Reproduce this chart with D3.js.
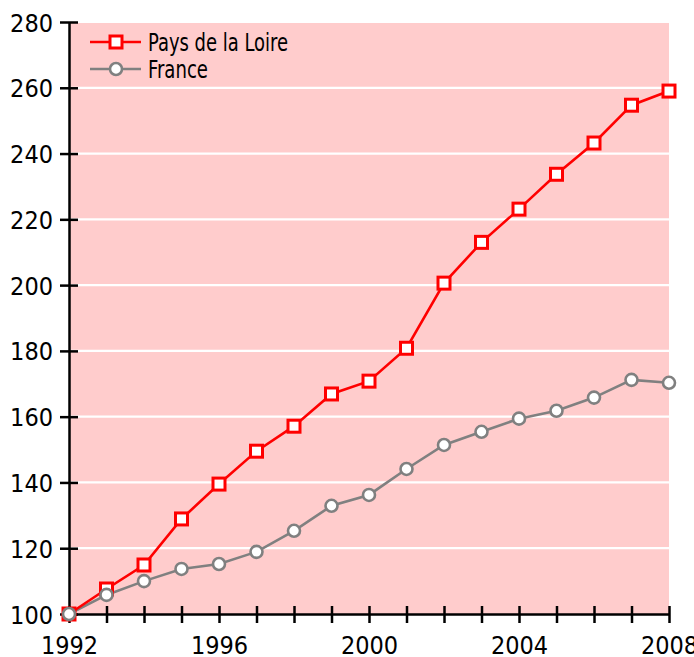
<!DOCTYPE html>
<html>
<head>
<meta charset="utf-8">
<script src="https://cdn.jsdelivr.net/npm/d3@7"></script>
<style>
  body { margin: 0; background: #fff; }
  svg text { font-family: "DejaVu Sans Condensed", "Liberation Sans Narrow", "Roboto", sans-serif; fill: #000; }
</style>
</head>
<body>
<div id="chart"></div>
<script>
var years = d3.range(1992, 2009);
var loireValues = [100, 107.6, 114.9, 128.9, 139.5, 149.5, 157.1, 166.9, 170.8, 180.8, 200.6, 213, 223.1, 233.7, 243.2, 254.7, 259];
var franceValues = [100, 105.8, 110, 113.7, 115.2, 118.9, 125.3, 132.9, 136.2, 144.1, 151.4, 155.4, 159.4, 161.8, 165.8, 171.2, 170.3];
var yTicks = [100, 120, 140, 160, 180, 200, 220, 240, 260, 280];
var xLabels = [1992, 1996, 2000, 2004, 2008];
var seriesNames = ["Pays de la Loire", "France"];

var margin = { top: 22, right: 25, bottom: 43, left: 69 };
var width = 694 - margin.left - margin.right,
    height = 657 - margin.top - margin.bottom;

var svg = d3.select("#chart").append("svg")
    .attr("width", 694)
    .attr("height", 657)
    .append("g")
    .attr("transform", "translate(" + margin.left + "," + margin.top + ")");

var x = d3.scaleLinear().domain([1992, 2008]).range([0, width]);
var y = d3.scaleLinear().domain([100, 280]).range([height, 0]);

svg.append("rect")
    .attr("width", width)
    .attr("height", height)
    .attr("fill", "#ffcccc");

// white grid lines
svg.selectAll(".grid")
    .data(yTicks.filter(function(d) { return d > 100; }))
    .enter().append("line")
    .attr("class", "grid")
    .attr("x1", 0).attr("x2", width)
    .attr("y1", function(d) { return y(d); })
    .attr("y2", function(d) { return y(d); })
    .attr("stroke", "#fff")
    .attr("stroke-width", 2.2);

var yAxis = d3.axisLeft(y).tickValues(yTicks).tickSize(0).tickPadding(16);
var xAxis = d3.axisBottom(x).tickValues(years).tickSize(0)
    .tickFormat(function(d) { return xLabels.indexOf(d) >= 0 ? d : ""; });

var gy = svg.append("g").call(yAxis);
var gx = svg.append("g").attr("transform", "translate(0," + height + ")").call(xAxis);

[gx, gy].forEach(function(g) {
    g.select(".domain").attr("stroke", "#000").attr("stroke-width", 2.5);
    g.selectAll("text").style("font-size", "25px");
});
gy.selectAll(".tick text").attr("dy", "0.36em");
gx.selectAll(".tick text").attr("y", 40).attr("dy", 0);

// ticks crossing the axes
gy.selectAll(".tick").append("line")
    .attr("x1", -9).attr("x2", 9)
    .attr("stroke", "#000").attr("stroke-width", 2.5);
gx.selectAll(".tick").append("line")
    .attr("y1", -8).attr("y2", 9)
    .attr("stroke", "#000").attr("stroke-width", 2.5);

var line = d3.line()
    .x(function(d, i) { return x(years[i]); })
    .y(function(d) { return y(d); });

svg.append("path")
    .datum(franceValues)
    .attr("d", line)
    .attr("fill", "none")
    .attr("stroke", "#808080")
    .attr("stroke-width", 2.6);

svg.append("path")
    .datum(loireValues)
    .attr("d", line)
    .attr("fill", "none")
    .attr("stroke", "#ff0000")
    .attr("stroke-width", 2.6);

svg.selectAll(".sq")
    .data(loireValues)
    .enter().append("rect")
    .attr("class", "sq")
    .attr("x", function(d, i) { return x(years[i]) - 6; })
    .attr("y", function(d) { return y(d) - 6; })
    .attr("width", 12).attr("height", 12)
    .attr("fill", "#fff")
    .attr("stroke", "#ff0000")
    .attr("stroke-width", 3);

svg.selectAll(".pt")
    .data(franceValues)
    .enter().append("circle")
    .attr("class", "pt")
    .attr("cx", function(d, i) { return x(years[i]); })
    .attr("cy", function(d) { return y(d); })
    .attr("r", 6)
    .attr("fill", "#fff")
    .attr("stroke", "#808080")
    .attr("stroke-width", 2.6);

// legend
var legend = svg.append("g").attr("transform", "translate(21,20)");
var colors = ["#ff0000", "#808080"];
var textWidths = [140, 60];
seriesNames.forEach(function(name, i) {
    var g = legend.append("g").attr("transform", "translate(0," + (i * 27) + ")");
    g.append("line").attr("x1", 0).attr("x2", 51)
        .attr("stroke", colors[i]).attr("stroke-width", 2.6);
    if (i === 0) {
        g.append("rect").attr("x", 20).attr("y", -6).attr("width", 12).attr("height", 12)
            .attr("fill", "#fff").attr("stroke", colors[i]).attr("stroke-width", 3);
    } else {
        g.append("circle").attr("cx", 26).attr("r", 6)
            .attr("fill", "#fff").attr("stroke", colors[i]).attr("stroke-width", 2.6);
    }
    g.append("text").attr("x", 58).attr("dy", "0.36em")
        .style("font-size", "25px")
        .attr("textLength", textWidths[i])
        .attr("lengthAdjust", "spacingAndGlyphs")
        .text(name);
});
</script>
</body>
</html>
